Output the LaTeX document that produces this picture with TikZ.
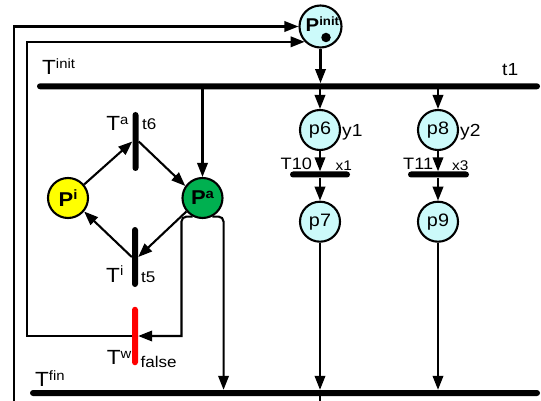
\documentclass[tikz,border=0pt]{standalone}
\usepackage{fontspec}
\setmainfont{Liberation Sans}[FakeStretch=1.1]
\usetikzlibrary{arrows.meta,calc}
\definecolor{pcyan}{RGB}{204,250,250}
\definecolor{pyellow}{RGB}{255,255,0}
\definecolor{pgreen}{RGB}{0,176,80}
\definecolor{tred}{RGB}{255,0,0}
\newcommand\upx[1]{\raisebox{6.5pt}{\fontsize{13.5}{13.5}\selectfont #1}}
\newcommand\upy[1]{\raisebox{6pt}{\fontsize{12}{12}\selectfont #1}}
\tikzset{
  place/.style={circle, draw, line width=2.1pt, minimum size=40pt, inner sep=0pt, font=\fontsize{18}{18}\selectfont},
  bigplace/.style={place, font=\bfseries\fontsize{20}{20}\selectfont},
  tbar/.style={rectangle, fill=black, inner sep=0pt, rounded corners=3pt},
  arr/.style={line width=2.1pt, -{Triangle[length=14pt,width=10.5pt]}},
  conn/.style={line width=2.1pt},
  tlab/.style={inner sep=0pt, font=\fontsize{20.5}{20.5}\selectfont},
  labm/.style={inner sep=0pt, font=\fontsize{17.5}{17.5}\selectfont},
  labt/.style={inner sep=0pt, font=\fontsize{16.5}{16.5}\selectfont},
  labs/.style={inner sep=0pt, font=\fontsize{15.5}{15.5}\selectfont},
  labx/.style={inner sep=0pt, font=\fontsize{14}{14}\selectfont},
}
\begin{document}
\begin{tikzpicture}[x=1pt,y=-1pt]
\useasboundingbox (0,0) rectangle (541,401);
% places
\node[place, fill=pcyan, minimum size=42pt] (Pinit) at (320.5,26.5) {};
\node[inner sep=0pt, anchor=base west, font=\bfseries\fontsize{18.5}{18.5}\selectfont] (Pinittxt) at (305.5,32) {P\upy{init}};
\node[circle, fill=black, minimum size=9.5pt, inner sep=0pt] (tok) at (326,37.5) {};
\node[place, fill=pcyan] (p6) at (320,130) {p6};
\node[place, fill=pcyan] (p7) at (320,221.7) {p7};
\node[place, fill=pcyan] (p8) at (438,130) {p8};
\node[place, fill=pcyan] (p9) at (438,221.7) {p9};
\node[bigplace, fill=pyellow] (Pi) at (68,198) {P\upx{i}};
\node[bigplace, fill=pgreen] (Pa) at (202.5,198) {P\upx{a}};
% transitions
\node[tbar, minimum width=503pt, minimum height=6pt] (Tinit) at (288.5,86.3) {};
\node[tbar, minimum width=510pt, minimum height=6pt] (Tfin) at (285,393) {};
\node[tbar, minimum width=6pt, minimum height=59pt] (Ta) at (135.5,141.5) {};
\node[tbar, minimum width=6pt, minimum height=60pt] (Ti) at (135,257) {};
\node[tbar, fill=tred, minimum width=6pt, minimum height=58.5pt] (Tw) at (135,336) {};
\node[tbar, minimum width=60pt, minimum height=6pt] (T10) at (320,174.5) {};
\node[tbar, minimum width=61pt, minimum height=6pt] (T11) at (438.5,174.5) {};
% labels
\node[tlab, anchor=base west] (lTinit) at (42,75) {T\upx{init}};
\node[labm, anchor=base west] (lt1) at (502,75.5) {t1};
\node[tlab, anchor=base east] (lTa) at (128.5,131) {T\upx{a}};
\node[labs, anchor=base west] (lt6) at (142,130) {t6};
\node[tlab, anchor=base east] (lTi) at (123.5,282) {T\upx{i}};
\node[labs, anchor=base west] (lt5) at (141,282) {t5};
\node[tlab, anchor=base east] (lTw) at (131.5,364.5) {T\upx{w}};
\node[labs, anchor=base west] (lfalse) at (140.5,367) {false};
\node[tlab, anchor=base west] (lTfin) at (35,386.5) {T\upx{fin}};
\node[labm, anchor=base west] (ly1) at (342,136.5) {y1};
\node[labm, anchor=base west] (ly2) at (460,136.5) {y2};
\node[labt, anchor=base west] (lT10) at (280.5,169.5) {T10};
\node[labx, anchor=base west] (lx1) at (335.5,170.5) {x1};
\node[labt, anchor=base west] (lT11) at (403,169.5) {T11};
\node[labx, anchor=base west] (lx3) at (452,170.5) {x3};
% free ends
\coordinate (loopin) at (13.8,402);
\coordinate (finout) at (320,402);
% connectors
\draw[arr] (Pinit) -- (Pinit |- Tinit.north);
\draw[arr] (Tinit.south -| Pa) -- (Pa);
\draw[arr] (Tinit.south -| p6) -- (p6);
\draw[arr] (Tinit.south -| p8) -- (p8);
\draw[arr] (p6) -- (p6 |- T10.north);
\draw[arr] (T10.south -| p7) -- (p7);
\draw[arr] (p8) -- (p8 |- T11.north);
\draw[arr] (T11.south -| p9) -- (p9);
\draw[arr] (p7) -- (p7 |- Tfin.north);
\draw[arr] (p9) -- (p9 |- Tfin.north);
\draw[arr] (Pi.40) -- (Ta.west);
\draw[arr] (Ta.east) -- (Pa.145);
\draw[arr] (Pa.-140) -- (Ti.east);
\draw[arr] (Ti.west) -- (Pi.-40);
\draw[arr] (Pa.-118) [rounded corners=5pt] -| ($(Pa.west)+(0,30)$) [sharp corners] |- (Tw.east);
\draw[arr] (Pa.-62) [rounded corners=5pt] -| ($(Pa.east)+(0,30)$) [sharp corners] -- (Pa.east |- Tfin.north);
\draw[arr] (Tw.west) -- ++(-105,0) |- (Pinit.224);
\draw[arr] (loopin) |- (Pinit.west);
\draw[conn] (Tfin.south -| p7) -- (finout);
\end{tikzpicture}
\end{document}
